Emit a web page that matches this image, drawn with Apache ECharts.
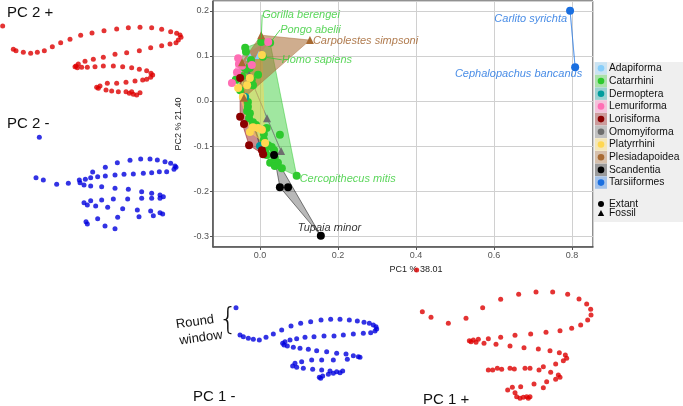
<!DOCTYPE html>
<html>
<head>
<meta charset="utf-8">
<script src="https://cdn.jsdelivr.net/npm/echarts@6/dist/echarts.min.js"></script>
<style>
  html, body { margin: 0; padding: 0; background: #fff; }
  #chart { width: 683px; height: 406px; }
</style>
</head>
<body>
<div id="chart"></div>
<script>
// ---- data: PCA scores [PC1, PC2, fossil(1) / extant(0)] ----
const groups = ['Adapiforma', 'Catarrhini', 'Dermoptera', 'Lemuriforma', 'Lorisiforma',
  'Omomyiforma', 'Platyrrhini', 'Plesiadapoidea', 'Scandentia', 'Tarsiiformes'];

const adapiforma = [[-0.026, 0.098, 1], [-0.003, 0.102, 1]];
const catarrhini = [
  [-0.038, 0.118, 0], [-0.036, 0.109, 0], [0.003, 0.131, 0], [0.026, 0.129, 0], [0.007, 0.098, 0],
  [-0.023, 0.091, 0], [-0.041, 0.075, 0], [-0.033, 0.069, 0], [-0.026, 0.073, 0], [-0.062, 0.047, 0],
  [-0.021, 0.047, 0], [-0.018, 0.035, 0], [-0.046, 0.055, 0], [-0.051, 0.024, 0], [-0.005, 0.058, 0],
  [-0.031, -0.002, 0], [-0.031, -0.013, 0], [-0.033, -0.022, 0], [-0.026, -0.027, 0], [-0.028, -0.038, 0],
  [-0.018, -0.047, 0], [-0.010, -0.053, 0], [0.017, -0.060, 0], [0.010, -0.073, 0], [0.010, -0.086, 0],
  [0.051, -0.075, 0], [0.021, -0.098, 0], [0.030, -0.102, 0], [0.036, -0.109, 0], [0.013, -0.112, 0],
  [0.017, -0.120, 0], [0.038, -0.126, 0], [0.026, -0.137, 0], [0.046, -0.137, 0], [0.038, -0.144, 0],
  [0.056, -0.149, 0], [0.094, -0.166, 0]
];
const dermoptera = [[-0.038, 0.009, 0], [0.000, -0.100, 0]];
const lemuriforma = [[-0.056, 0.095, 0], [-0.072, 0.040, 0], [-0.059, 0.064, 0], [-0.021, 0.080, 0],
  [0.021, 0.131, 0], [-0.046, 0.078, 0], [-0.054, 0.082, 0]];
const lorisiforma = [[-0.051, 0.051, 0], [-0.051, -0.035, 0], [-0.041, -0.051, 0], [-0.028, -0.098, 0],
  [0.005, -0.109, 0], [0.008, -0.118, 0]];
const omomyiforma = [[-0.028, 0.058, 1], [0.018, -0.038, 1], [0.054, -0.111, 1]];
const platyrrhini = [[0.005, 0.102, 0], [-0.056, 0.029, 0], [-0.033, 0.035, 0], [-0.026, 0.051, 0],
  [-0.044, 0.009, 0], [-0.018, -0.058, 0], [-0.005, -0.060, 0], [-0.026, -0.069, 0], [0.013, -0.093, 0],
  [0.005, -0.064, 0]];
const plesiadapoidea = [[0.003, 0.146, 1], [0.128, 0.135, 1], [-0.046, 0.086, 1], [-0.041, 0.007, 1]];
const scandentia = [[0.036, -0.120, 0], [0.051, -0.191, 0], [0.072, -0.191, 0], [0.156, -0.299, 0]];
const tarsiiformes = [[0.795, 0.200, 0], [0.808, 0.075, 0]];

const groupData = [adapiforma, catarrhini, dermoptera, lemuriforma, lorisiforma,
  omomyiforma, platyrrhini, plesiadapoidea, scandentia, tarsiiformes];

// labelled specimens: [name, group, PC1, PC2]
const speciesLabels = [
  ['Gorilla berengei', 'Catarrhini', 0.003, 0.131],
  ['Pongo abelii', 'Catarrhini', 0.026, 0.129],
  ['Carpolestes simpsoni', 'Plesiadapoidea', 0.128, 0.135],
  ['Homo sapiens', 'Catarrhini', 0.007, 0.098],
  ['Cercopithecus mitis', 'Catarrhini', 0.094, -0.166],
  ['Tupaia minor', 'Scandentia', 0.156, -0.299],
  ['Carlito syrichta', 'Tarsiiformes', 0.795, 0.200],
  ['Cephalopachus bancanus', 'Tarsiiformes', 0.808, 0.075]
];

// landmark configurations at the PC extremes (local plot units)
const pc2Plus = [[8,78],[40,148],[48,152],[70,157],[92,160],[112,157],[133,152],[157,140],[182,128],[210,118],
  [242,106],[276,99],[312,92],[350,87],[385,83],[420,82],[455,83],[485,88],[512,95],[530,100],[540,105],
  [543,112],[535,120],[528,128],[510,132],[485,137],[452,143],[418,152],[380,158],[345,163],[310,172],
  [280,178],[255,184],[235,192],[228,198],[225,200],[232,203],[245,202],[262,202],[285,200],[310,198],
  [340,198],[368,200],[395,203],[418,208],[440,212],[453,220],[458,225],[452,232],[440,238],[428,240],
  [405,243],[378,247],[350,250],[322,250],[300,258],[290,262],[295,265],[318,270],[335,273],[355,275],
  [378,275],[388,280],[400,283],[410,285],[420,278],[395,275]];
const pc2Minus = [[118,172],[108,293],[130,300],[170,313],[205,310],[238,300],[240,308],[256,298],[272,293],
  [293,290],[316,288],[345,285],[372,283],[400,282],[430,280],[455,278],[478,275],[500,275],[522,268],
  [528,262],[525,258],[512,250],[495,245],[472,240],[450,237],[422,237],[390,241],[352,248],[316,262],
  [278,276],[252,315],[272,318],[305,320],[345,325],[385,328],[425,335],[455,340],[480,345],[490,350],
  [480,355],[455,355],[425,355],[383,357],[340,357],[305,360],[272,362],[252,368],[262,375],[287,378],
  [323,382],[368,386],[412,390],[452,393],[480,398],[488,402],[460,407],[417,410],[353,412],[293,416],
  [258,425],[262,432],[315,438],[345,446]];
const pc1Minus = [[228,143],[240,225],[250,230],[265,235],[280,238],[298,240],[318,232],[340,222],[365,210],
  [393,198],[422,190],[452,185],[483,180],[512,178],[540,178],[568,180],[592,183],[612,187],[628,190],
  [640,195],[648,200],[650,207],[645,213],[632,218],[610,220],[580,222],[550,225],[522,228],[492,228],
  [462,230],[435,232],[410,236],[390,240],[375,245],[368,250],[372,255],[382,258],[400,262],[420,265],
  [445,268],[470,272],[500,275],[530,280],[558,282],[580,287],[595,290],[600,292],[562,298],[520,300],
  [485,300],[455,300],[425,305],[405,310],[398,318],[410,322],[430,325],[458,328],[485,330],[510,333],
  [530,335],[548,333],[540,338],[520,340],[505,343],[488,348],[478,352],[482,355]];
const pc1Plus = [[110,30],[127,155],[153,172],[205,190],[258,175],[308,143],[362,118],[416,103],[468,96],
  [518,96],[563,103],[597,117],[620,132],[632,148],[633,165],[623,180],[602,195],[575,205],[540,212],
  [498,217],[452,222],[405,226],[362,232],[325,236],[295,238],[280,240],[268,242],[273,245],[288,247],
  [312,250],[348,253],[390,258],[432,263],[475,267],[510,272],[538,278],[556,285],[560,295],[550,302],
  [527,312],[490,320],[450,325],[435,325],[403,327],[390,325],[365,328],[352,325],[338,330],[325,330],
  [477,330],[512,337],[535,345],[540,352],[527,358],[500,365],[462,372],[422,380],[397,382],[383,390],
  [405,398],[410,410],[420,415],[430,412],[440,410],[450,410],[445,415],[490,383]];

// ---- styles / layout ----
const groupColors = ['#87cefa', '#2dc92d', '#009c9c', '#ff6eb4', '#8b0000',
  '#6e6e6e', '#ffd750', '#a86a32', '#000000', '#1a6fe0'];
const hullAlpha = [0.4, 0.45, 0.4, 0.35, 0.45, 0.4, 0.45, 0.55, 0.28, 0.4];
// [position, dx, dy, leader line]
const labelShift = [
  ['right', -8, -27, true], ['right', 1, -13, true], ['right', -6, 1, false], ['right', 10, 3, true],
  ['right', -6, 3.5, false], ['right', -32, -8, false], ['left', 6, 8, false], ['left', 16, 7, false]
];
const FONT = '"Liberation Sans", Arial, sans-serif';

function rgba(hex, a) {
  const n = parseInt(hex.slice(1), 16);
  return 'rgba(' + (n >> 16 & 255) + ',' + (n >> 8 & 255) + ',' + (n & 255) + ',' + a + ')';
}

function convexHull(pts) {
  const p = pts.slice().sort((a, b) => a[0] - b[0] || a[1] - b[1]);
  if (p.length < 3) return p;
  const cross = (o, a, b) => (a[0] - o[0]) * (b[1] - o[1]) - (a[1] - o[1]) * (b[0] - o[0]);
  const lower = [], upper = [];
  for (const q of p) {
    while (lower.length >= 2 && cross(lower[lower.length - 2], lower[lower.length - 1], q) <= 0) lower.pop();
    lower.push(q);
  }
  for (let i = p.length - 1; i >= 0; i--) {
    const q = p[i];
    while (upper.length >= 2 && cross(upper[upper.length - 2], upper[upper.length - 1], q) <= 0) upper.pop();
    upper.push(q);
  }
  upper.pop(); lower.pop();
  return lower.concat(upper);
}

const series = [];

// convex hulls
groups.forEach((g, i) => {
  const pts = groupData[i];
  series.push({
    type: 'custom', name: g + ' hull', xAxisIndex: 0, yAxisIndex: 0, z: 1, silent: true,
    data: [[pts[0][0], pts[0][1]]],
    renderItem: function (params, api) {
      const px = pts.map(p => api.coord([p[0], p[1]]));
      return {
        type: 'polygon',
        shape: { points: convexHull(px) },
        style: { fill: rgba(groupColors[i], hullAlpha[i]), stroke: rgba(groupColors[i], 0.6), lineWidth: 0.8 }
      };
    }
  });
});

// specimens
groups.forEach((g, i) => {
  series.push({
    type: 'scatter', name: g, xAxisIndex: 0, yAxisIndex: 0, z: 3, silent: true,
    symbol: v => v[2] ? 'triangle' : 'circle',
    symbolSize: 8,
    itemStyle: { color: groupColors[i], opacity: 1 },
    data: groupData[i]
  });
});

// species labels
series.push({
  type: 'scatter', name: 'labels', xAxisIndex: 0, yAxisIndex: 0, z: 4, silent: true,
  symbolSize: 8,
  itemStyle: { color: 'rgba(0,0,0,0)' },
  data: speciesLabels.map((s, k) => {
    const c = groupColors[groups.indexOf(s[1])];
    const col = s[1] === 'Catarrhini' ? '#33cc33' : s[1] === 'Plesiadapoidea' ? '#9c5a22' : c;
    return {
      name: s[0], value: [s[2], s[3]],
      label: { show: true, position: labelShift[k][0], distance: 5, formatter: s[0], color: col,
        fontStyle: 'italic', fontSize: 11, fontFamily: FONT },
      labelLine: { show: labelShift[k][3], lineStyle: { color: col, width: 0.8 } }
    };
  }),
  labelLayout: params => ({ dx: labelShift[params.dataIndex][1], dy: labelShift[params.dataIndex][2] })
});

// side shapes
const shapeSets = [[pc2Plus, '#dd0000'], [pc2Minus, '#0000dd'], [pc1Minus, '#0000dd'], [pc1Plus, '#dd0000']];
shapeSets.forEach((s, k) => {
  series.push({
    type: 'scatter', name: 'shape' + k, xAxisIndex: k + 1, yAxisIndex: k + 1, silent: true,
    symbolSize: 5, itemStyle: { color: s[1] }, data: s[0]
  });
});

const shapeGrids = [
  { left: 0, top: 0, width: 200, height: 130, xmax: 600, ymax: 390 },
  { left: 0, top: 80, width: 200, height: 160, xmax: 600, ymax: 480 },
  { left: 160, top: 260, width: 220, height: 146, xmax: 660, ymax: 438 },
  { left: 380, top: 260, width: 303, height: 146, xmax: 909, ymax: 438 }
];

const grid = [{ left: 213, top: 1, width: 380, height: 246, show: true, borderColor: '#222', borderWidth: 1 }]
  .concat(shapeGrids.map(g => ({ left: g.left, top: g.top, width: g.width, height: g.height })));

const axisCommon = {
  type: 'value',
  axisLine: { show: true, onZero: false, lineStyle: { color: '#555', width: 1.5 } },
  axisTick: { show: true, length: 3, lineStyle: { color: '#555' } },
  splitLine: { show: true, lineStyle: { color: '#d0d0d0', width: 1 } },
  nameTextStyle: { fontSize: 9, color: '#222', fontFamily: FONT }
};

const xAxis = [Object.assign({}, axisCommon, {
  gridIndex: 0, min: -0.1205, max: 0.8538, splitNumber: 5,
  axisLabel: { fontSize: 9, color: '#555', margin: 4, fontFamily: FONT, showMinLabel: false, showMaxLabel: false,
    formatter: v => v.toFixed(1) },
  name: 'PC1 % 38.01', nameLocation: 'middle', nameGap: 11,
  nameTextStyle: { fontSize: 9, color: '#222', fontFamily: FONT, padding: [0, 0, 0, 26] }
})].concat(shapeGrids.map((g, k) => ({ gridIndex: k + 1, type: 'value', min: 0, max: g.xmax, show: false })));

const yAxis = [Object.assign({}, axisCommon, {
  gridIndex: 0, min: -0.3237, max: 0.2217, splitNumber: 5,
  axisLabel: { fontSize: 9, color: '#555', margin: 4, fontFamily: FONT, showMinLabel: false, showMaxLabel: false,
    formatter: v => v.toFixed(1) },
  name: 'PC2 % 21.40', nameLocation: 'middle', nameGap: 20
})].concat(shapeGrids.map((g, k) => ({ gridIndex: k + 1, type: 'value', min: 0, max: g.ymax, inverse: true, show: false })));

// legend and annotations
const graphics = [{ type: 'rect', shape: { x: 594, y: 62, width: 89, height: 160 }, style: { fill: '#efefef' }, z: 10 }];
groups.forEach((g, i) => {
  const cy = 68.3 + i * 12.7;
  graphics.push({ type: 'rect', shape: { x: 595, y: cy - 6.2, width: 12, height: 12.4 }, style: { fill: rgba(groupColors[i], 0.35) }, z: 11 });
  graphics.push({ type: 'circle', shape: { cx: 601, cy: cy, r: 3.3 }, style: { fill: groupColors[i] }, z: 12 });
  graphics.push({ type: 'text', x: 609, y: cy, style: { text: g, fontSize: 10.3, fill: '#111', verticalAlign: 'middle', fontFamily: FONT }, z: 12 });
});
graphics.push({ type: 'circle', shape: { cx: 601, cy: 204, r: 3 }, style: { fill: '#000' }, z: 12 });
graphics.push({ type: 'text', x: 609, y: 204, style: { text: 'Extant', fontSize: 10.3, fill: '#111', verticalAlign: 'middle', fontFamily: FONT }, z: 12 });
graphics.push({ type: 'polygon', shape: { points: [[601, 210], [604.2, 216], [597.8, 216]] }, style: { fill: '#000' }, z: 12 });
graphics.push({ type: 'text', x: 609, y: 213.3, style: { text: 'Fossil', fontSize: 10.3, fill: '#111', verticalAlign: 'middle', fontFamily: FONT }, z: 12 });

const bigText = (t, x, y) => ({ type: 'text', x: x, y: y, style: { text: t, fontSize: 15, fill: '#111', verticalAlign: 'middle', fontFamily: FONT }, z: 12 });
graphics.push(bigText('PC 2 +', 7, 13));
graphics.push(bigText('PC 2 -', 7, 124));
graphics.push(bigText('PC 1 -', 193, 397));
graphics.push(bigText('PC 1 +', 423, 400));
graphics.push({ type: 'text', x: 195, y: 322, rotation: 0.14, style: { text: 'Round', fontSize: 13, fill: '#111', align: 'center', verticalAlign: 'middle', fontFamily: FONT }, z: 12 });
graphics.push({ type: 'text', x: 201, y: 338, rotation: 0.14, style: { text: 'window', fontSize: 13, fill: '#111', align: 'center', verticalAlign: 'middle', fontFamily: FONT }, z: 12 });
graphics.push({ type: 'text', x: 228, y: 321, style: { text: '{', fontSize: 30, fill: '#111', align: 'center', verticalAlign: 'middle', fontFamily: '"DejaVu Sans", sans-serif', fontWeight: 200 }, z: 12 });

const chart = echarts.init(document.getElementById('chart'));
chart.setOption({
  animation: false,
  backgroundColor: '#fff',
  grid: grid,
  xAxis: xAxis,
  yAxis: yAxis,
  series: series,
  graphic: graphics
});
</script>
</body>
</html>
